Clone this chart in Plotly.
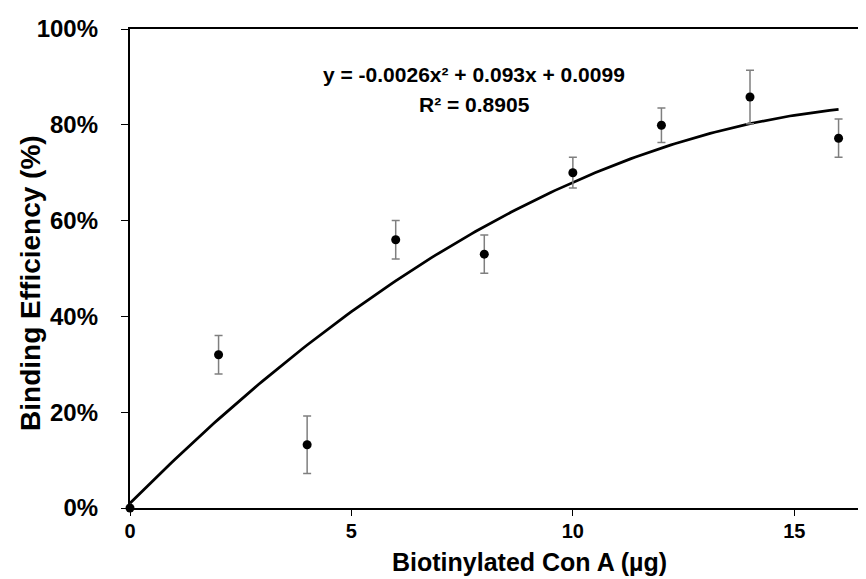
import plotly.graph_objects as go

# Data
conA_ug = [0, 2, 4, 6, 8, 10, 12, 14, 16]
binding = [0.0, 0.32, 0.132, 0.56, 0.53, 0.70, 0.799, 0.858, 0.772]
err = [0.0, 0.04, 0.06, 0.04, 0.04, 0.032, 0.036, 0.056, 0.04]

# Trendline coefficients as shown on chart (y = a x^2 + b x + c)
trend_coef = [-0.0026, 0.093, 0.0099]
trend_x = [i * 0.1 for i in range(0, 161)]
trend_y = [trend_coef[0] * x * x + trend_coef[1] * x + trend_coef[2] for x in trend_x]

eq_text = "y = -0.0026x² + 0.093x + 0.0099"
r2_text = "R² = 0.8905"
x_title = "Biotinylated Con A (µg)"
y_title = "Binding Efficiency (%)"
y_ticks = [0, 0.2, 0.4, 0.6, 0.8, 1.0]
y_tick_labels = ["0%", "20%", "40%", "60%", "80%", "100%"]
x_ticks = [0, 5, 10, 15]

FONT = "Liberation Sans, Arial, sans-serif"

fig = go.Figure()
fig.add_trace(go.Scatter(
    x=trend_x, y=trend_y, mode="lines",
    line=dict(color="black", width=2.75),
    hoverinfo="skip", showlegend=False, cliponaxis=False,
))
fig.add_trace(go.Scatter(
    x=conA_ug, y=binding, mode="markers",
    marker=dict(color="black", size=9),
    error_y=dict(type="data", array=err, visible=True, color="#7f7f7f", thickness=1.5, width=4),
    showlegend=False, cliponaxis=False,
))

fig.add_annotation(x=7.77, y=0.905, xref="x", yref="y", text=f"<b>{eq_text}</b>",
                   showarrow=False, font=dict(family=FONT, size=21, color="black"),
                   xanchor="center", yanchor="middle")
fig.add_annotation(x=7.77, y=0.843, xref="x", yref="y", text=f"<b>{r2_text}</b>",
                   showarrow=False, font=dict(family=FONT, size=21, color="black"),
                   xanchor="center", yanchor="middle")
fig.add_annotation(x=0.5376, y=-0.112, xref="paper", yref="paper", text=f"<b>{x_title}</b>",
                   showarrow=False, font=dict(family=FONT, size=25, color="black"),
                   xanchor="center", yanchor="middle")
fig.add_annotation(x=-0.133, y=0.47, xref="paper", yref="paper", text=f"<b>{y_title}</b>",
                   showarrow=False, textangle=-90, font=dict(family=FONT, size=28, color="black"),
                   xanchor="center", yanchor="middle")

fig.update_layout(
    width=866, height=579,
    margin=dict(l=122, r=0, t=21, b=79),
    plot_bgcolor="white", paper_bgcolor="white",
    font=dict(family=FONT, color="black"),
    xaxis=dict(
        range=[0, 16.8], tickvals=x_ticks, ticktext=[f"<b>{v}</b>" for v in x_ticks],
        showgrid=False, zeroline=False,
        showline=True, linecolor="black", linewidth=2.25, mirror=True,
        ticks="outside", ticklen=6, tickwidth=1, tickcolor="black",
        tickfont=dict(family=FONT, size=20, color="black"),
        ticklabelstandoff=-2,
    ),
    yaxis=dict(
        range=[0, 1.0], tickvals=y_ticks, ticktext=[f"<b>{t}</b>" for t in y_tick_labels],
        showgrid=False, zeroline=False,
        showline=True, linecolor="black", linewidth=2.25,
        ticks="outside", ticklen=7, tickwidth=1, tickcolor="black",
        tickfont=dict(family=FONT, size=24, color="black"),
        ticklabelstandoff=18,
    ),
)

fig.write_html("out.html")
